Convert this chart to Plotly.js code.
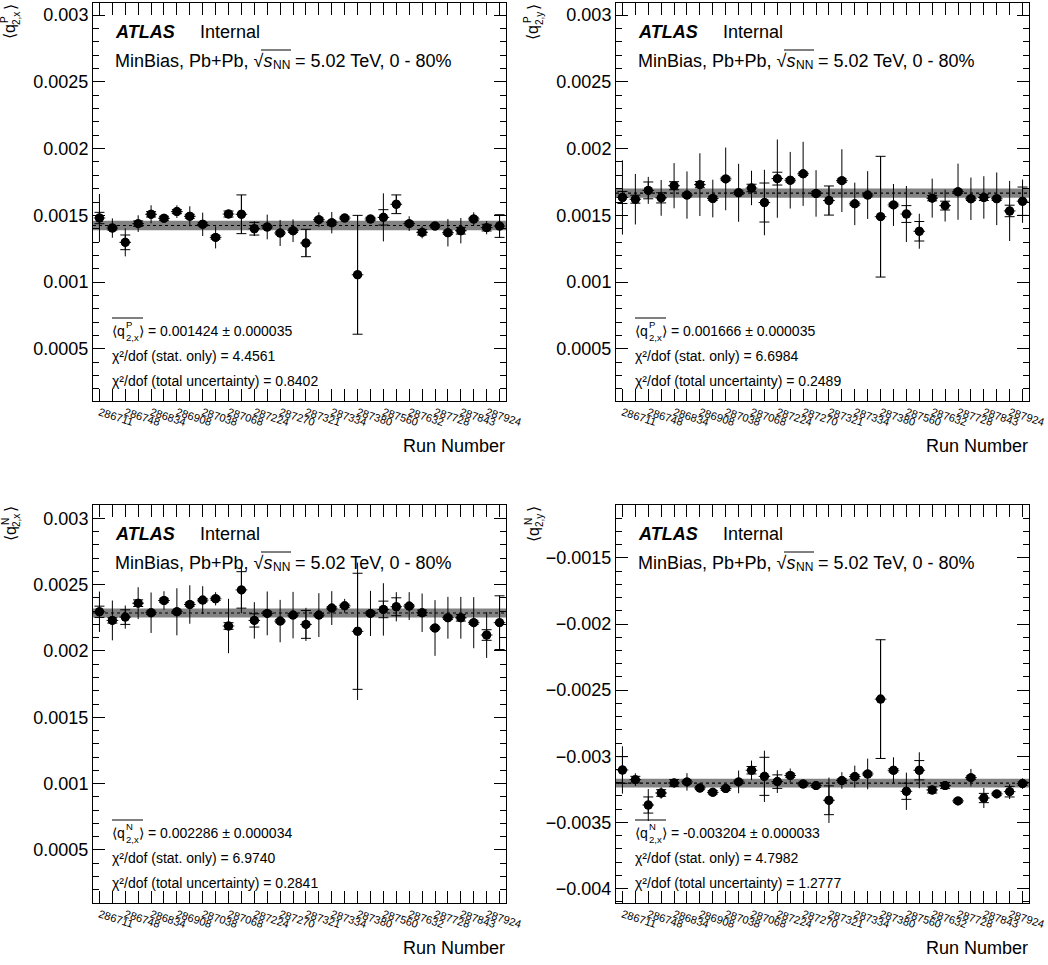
<!DOCTYPE html>
<html>
<head>
<meta charset="utf-8">
<script src="https://cdn.plot.ly/plotly-3.0.1.min.js"></script>
<style>html,body{margin:0;padding:0;background:#fff;}#chart{width:1048px;height:965px;}</style>
</head>
<body>
<div id="chart"></div>
<script>
// ---------------- data ----------------
const runLabels = ["286711","286748","286834","286908","287038","287068","287224","287270","287321","287334","287380","287560","287632","287728","287843","287924"];
const nBins = 32;

const qPx = [0.001480,0.001405,0.001298,0.001438,0.001508,0.001478,0.001528,0.001493,0.001433,0.001335,0.001510,0.001508,0.001400,0.001413,0.001368,0.001385,0.001293,0.001468,0.001445,0.001480,0.001055,0.001473,0.001485,0.001583,0.001438,0.001373,0.001420,0.001370,0.001385,0.001473,0.001408,0.001420];
const qPxErrLine = [0.000180,0.0000725,0.000105,0.0000625,0.0000675,0.000025,0.0000475,0.000075,0.0000875,0.0000825,0.000025,0.000145,0.000055,0.0000925,0.0000975,0.000085,0.0001025,0.000055,0.00008,0.000025,0.000445,0.00002,0.00018,0.00007,0.000055,0.000045,0.000025,0.0001025,0.000095,0.00005,0.00005,0.000085];
const qPxErrCap = [0.0000425,0.000015,0.000055,0.00002,0.00002,0.000015,0.000015,0.000015,0.0000125,0.0000125,0.0000225,0.000145,0.0000475,0.0000125,0.0000125,0.0000125,0.0001025,0.0000125,0.0000125,0.0000125,0.000445,0.0000125,0.0000575,0.00007,0.0000125,0.00002,0.0000125,0.0000125,0.000025,0.0000125,0.000025,0.000085];

const qPy = [0.001634,0.001621,0.001687,0.001631,0.001722,0.001652,0.001730,0.001626,0.001773,0.001669,0.001705,0.001596,0.001775,0.001763,0.001811,0.001664,0.001611,0.001760,0.001586,0.001652,0.001490,0.001578,0.001510,0.001381,0.001629,0.001573,0.001677,0.001624,0.001634,0.001624,0.001533,0.001606];
const qPyErrLine = [0.000278,0.000189,0.000101,0.000134,0.000169,0.000177,0.000235,0.000141,0.000235,0.000217,0.000129,0.000245,0.000293,0.000212,0.000240,0.000174,0.000109,0.000235,0.000159,0.000179,0.000452,0.000157,0.000210,0.000131,0.000146,0.000119,0.000210,0.000159,0.000159,0.000197,0.000225,0.000162];
const qPyErrCap = [0.000045,0.000030,0.000063,0.000038,0.000030,0.000013,0.000023,0.000013,0.000013,0.000013,0.000028,0.000146,0.000048,0.000013,0.000013,0.000013,0.000109,0.000013,0.000013,0.000013,0.000452,0.000013,0.000063,0.000073,0.000020,0.000033,0.000013,0.000013,0.000023,0.000013,0.000043,0.000106];

const qNx = [0.002295,0.002230,0.002255,0.002360,0.002288,0.002380,0.002295,0.002350,0.002383,0.002393,0.002188,0.002460,0.002230,0.002283,0.002225,0.002270,0.002200,0.002270,0.002323,0.002340,0.002148,0.002283,0.002313,0.002333,0.002338,0.002288,0.002173,0.002250,0.002250,0.002213,0.002120,0.002213];
const qNxErrLine = [0.0001525,0.00015,0.0000875,0.00012,0.0001525,0.00007,0.0001775,0.000145,0.000105,0.00005,0.000205,0.000175,0.0001375,0.000165,0.00016,0.000175,0.000125,0.000165,0.0001275,0.0000525,0.0005175,0.00017,0.0001975,0.00011,0.000105,0.000145,0.00021,0.0001575,0.0001575,0.0001925,0.0001725,0.0002025];
const qNxErrCap = [0.0000425,0.00002,0.000055,0.000025,0.0000125,0.0000125,0.0000125,0.0000125,0.0000125,0.0000125,0.000025,0.0001375,0.00005,0.0000125,0.0000125,0.0000125,0.000105,0.0000125,0.0000125,0.0000125,0.0004375,0.0000125,0.0000625,0.0000675,0.0000125,0.00002,0.0000125,0.0000125,0.000025,0.0000125,0.00004,0.0002025];

const qNy = [-0.003104,-0.003177,-0.003369,-0.003278,-0.003202,-0.003194,-0.003240,-0.003273,-0.003245,-0.003194,-0.003106,-0.003152,-0.003192,-0.003146,-0.003210,-0.003222,-0.003333,-0.003184,-0.003154,-0.003134,-0.002568,-0.003106,-0.003265,-0.003106,-0.003255,-0.003222,-0.003338,-0.003162,-0.003316,-0.003285,-0.003268,-0.003207];
const qNyErrLine = [0.000179,0.000048,0.000121,0.000043,0.000033,0.000066,0.000033,0.000020,0.000020,0.000086,0.000073,0.000194,0.000086,0.000053,0.000025,0.000020,0.000172,0.000063,0.000083,0.000116,0.000449,0.000098,0.000141,0.000136,0.000033,0.000033,0.000020,0.000066,0.000076,0.000025,0.000056,0.000040];
const qNyErrCap = [0.000101,0.000025,0.000061,0.000025,0.000025,0.000013,0.000013,0.000013,0.000013,0.000013,0.000028,0.000144,0.000051,0.000013,0.000013,0.000013,0.000109,0.000013,0.000013,0.000013,0.000449,0.000013,0.000061,0.000073,0.000023,0.000023,0.000013,0.000013,0.000035,0.000013,0.000040,0.000013];

const meanVals = [0.001424, 0.001666, 0.002286, -0.003204];
const meanErrs = [0.000035, 0.000035, 0.000034, 0.000033];
const meanLabels = ["0.001424 ± 0.000035","0.001666 ± 0.000035","0.002286 ± 0.000034","-0.003204 ± 0.000033"];
const chi2Stat = ["4.4561","6.6984","6.9740","4.7982"];
const chi2Total = ["0.8402","0.2489","0.2841","1.2777"];
const charges = ["P","P","N","N"];
const yComps = ["x","y","x","y"];

const yTickVals = [
  [0.0005,0.001,0.0015,0.002,0.0025,0.003],
  [0.0005,0.001,0.0015,0.002,0.0025,0.003],
  [0.0005,0.001,0.0015,0.002,0.0025,0.003],
  [-0.004,-0.0035,-0.003,-0.0025,-0.002,-0.0015]
];
const yTickText = [
  ["0.0005","0.001","0.0015","0.002","0.0025","0.003"],
  ["0.0005","0.001","0.0015","0.002","0.0025","0.003"],
  ["0.0005","0.001","0.0015","0.002","0.0025","0.003"],
  ["\u22120.004","\u22120.0035","\u22120.003","\u22120.0025","\u22120.002","\u22120.0015"]
];
const yRanges = [[0.00011,0.00309],[0.00011,0.00309],[0.0001,0.0031],[-0.00411,-0.0011]];

// ---------------- layout helpers ----------------
const W = 1048, H = 965;
const FONT = "Liberation Sans, Arial, Helvetica, sans-serif";
const panelBoxes = [
  {x0:93, y0:3}, {x0:616, y0:3}, {x0:93, y0:505}, {x0:616, y0:505}
];
const PW = 413, PH = 398;
const fx = p => p / W;
const fy = p => 1 - p / H;

const series = [
  {y:qPx, eLine:qPxErrLine, eCap:qPxErrCap},
  {y:qPy, eLine:qPyErrLine, eCap:qPyErrCap},
  {y:qNx, eLine:qNxErrLine, eCap:qNxErrCap},
  {y:qNy, eLine:qNyErrLine, eCap:qNyErrCap}
];

const xIdx = Array.from({length:nBins}, (_, i) => i);
const xLabelPos = runLabels.map((_, j) => 2 * j);
const xOddPos = xIdx.filter(i => i % 2 === 1);

const data = [];
const layout = {
  width: W, height: H,
  margin: {l:0, r:0, t:0, b:0},
  paper_bgcolor: "#ffffff", plot_bgcolor: "#ffffff",
  showlegend: false,
  font: {family: FONT, color: "#000", size: 17},
  annotations: [], shapes: []
};

series.forEach((s, k) => {
  const n = k + 1;
  const xa = n === 1 ? "x" : "x" + n;
  const ya = n === 1 ? "y" : "y" + n;
  const b = panelBoxes[k];

  data.push({
    type: "scatter", mode: "markers", x: xIdx, y: s.y, xaxis: xa, yaxis: ya,
    marker: {color: "#000", size: 9},
    error_y: {type: "data", array: s.eLine, visible: true, color: "#000", thickness: 1, width: 0},
    error_x: {type: "constant", value: 0.45, visible: true, color: "#000", thickness: 1, width: 0},
    hoverinfo: "skip"
  });
  data.push({
    type: "scatter", mode: "markers", x: xIdx, y: s.y, xaxis: xa, yaxis: ya,
    marker: {color: "#000", size: 9},
    error_y: {type: "data", array: s.eCap, visible: true, color: "#000", thickness: 1, width: 5},
    hoverinfo: "skip"
  });

  const xDom = [fx(b.x0), fx(b.x0 + PW)];
  const yDom = [fy(b.y0 + PH), fy(b.y0)];
  layout["xaxis" + (n === 1 ? "" : n)] = {
    domain: xDom, anchor: ya, range: [-0.5, nBins - 0.5],
    tickmode: "array", tickvals: xLabelPos, ticktext: runLabels,
    tickangle: 18, tickfont: {size: 11, family: FONT},
    ticks: "inside", ticklen: 12, tickcolor: "#000", tickwidth: 1,
    minor: {ticks: "inside", ticklen: 12, tickcolor: "#000", tickwidth: 1, tickmode: "array", tickvals: xOddPos, showgrid: false},
    showline: true, linecolor: "#000", linewidth: 1, mirror: "ticks",
    showgrid: false, zeroline: false, automargin: false, fixedrange: true
  };
  layout["yaxis" + (n === 1 ? "" : n)] = {
    domain: yDom, anchor: xa, range: yRanges[k],
    tickmode: "array", tickvals: yTickVals[k], ticktext: yTickText[k],
    tickfont: {size: 18, family: FONT},
    ticks: "inside", ticklen: 12, tickcolor: "#000", tickwidth: 1,
    minor: {ticks: "inside", ticklen: 6, tickcolor: "#000", tickwidth: 1, tickmode: "linear", tick0: 0, dtick: 0.0001, showgrid: false},
    showline: true, linecolor: "#000", linewidth: 1, mirror: "ticks",
    showgrid: false, zeroline: false, automargin: false, fixedrange: true
  };

  // mean band + dotted mean line
  layout.shapes.push({
    type: "rect", xref: xa + " domain", yref: ya, x0: 0, x1: 1,
    y0: meanVals[k] - meanErrs[k], y1: meanVals[k] + meanErrs[k],
    fillcolor: "#828282", line: {width: 0}, layer: "below"
  });
  layout.shapes.push({
    type: "line", xref: xa + " domain", yref: ya, x0: 0, x1: 1,
    y0: meanVals[k], y1: meanVals[k],
    line: {color: "#000", width: 1.2, dash: "dot"}, layer: "below"
  });

  const A = (px, py, text, opts) => Object.assign({
    xref: "paper", yref: "paper", x: fx(px), y: fy(py), text: text,
    showarrow: false, xanchor: "left", yanchor: "middle", borderpad: 0,
    font: {family: FONT, size: 18, color: "#000"}
  }, opts || {});
  const f = sz => ({family: FONT, size: sz, color: "#000"});

  layout.annotations.push(A(b.x0 + 21, b.y0 + 29, "<b><i>ATLAS</i></b>"));
  layout.annotations.push(A(b.x0 + 106, b.y0 + 29, "Internal"));
  // energy line split so that the subscript sits under the root sign
  layout.annotations.push(A(b.x0 + 21, b.y0 + 58, "MinBias, Pb+Pb, \u221A<i>s</i>"));
  layout.annotations.push(A(b.x0 + 179, b.y0 + 62, "NN", {font: f(12)}));
  layout.annotations.push(A(b.x0 + 201, b.y0 + 58, "= 5.02 TeV, 0 - 80%"));
  layout.shapes.push({type: "line", xref: "paper", yref: "paper",
    x0: fx(b.x0 + 168), x1: fx(b.x0 + 198), y0: fy(b.y0 + 47), y1: fy(b.y0 + 47),
    line: {color: "#000", width: 1}});

  // mean value with stacked super/subscript
  layout.annotations.push(A(b.x0 + 18, b.y0 + 328, "\u27E8q", {font: f(14)}));
  layout.annotations.push(A(b.x0 + 32, b.y0 + 321, charges[k], {font: f(9.5)}));
  layout.annotations.push(A(b.x0 + 32, b.y0 + 334, "2,x", {font: f(9.5)}));
  layout.annotations.push(A(b.x0 + 45, b.y0 + 328, "\u27E9 = " + meanLabels[k], {font: f(14)}));
  layout.shapes.push({type: "line", xref: "paper", yref: "paper",
    x0: fx(b.x0 + 19), x1: fx(b.x0 + 50), y0: fy(b.y0 + 315), y1: fy(b.y0 + 315),
    line: {color: "#000", width: 1}});
  layout.annotations.push(A(b.x0 + 18, b.y0 + 353, "\u03C7\u00B2/dof (stat. only) = " + chi2Stat[k], {font: f(14)}));
  layout.annotations.push(A(b.x0 + 18, b.y0 + 378, "\u03C7\u00B2/dof (total uncertainty) = " + chi2Total[k], {font: f(14)}));

  // axis titles
  layout.annotations.push(A(b.x0 + PW, b.y0 + 443, "Run Number", {xanchor: "right"}));
  layout.annotations.push(A(b.x0 - 83, b.y0 + 29, "\u27E8q", {xanchor: "center", textangle: -90, font: f(16)}));
  layout.annotations.push(A(b.x0 - 88, b.y0 + 17, charges[k], {xanchor: "center", textangle: -90, font: f(10)}));
  layout.annotations.push(A(b.x0 - 77, b.y0 + 16, "2," + yComps[k], {xanchor: "center", textangle: -90, font: f(10)}));
  layout.annotations.push(A(b.x0 - 83, b.y0 + 4, "\u27E9", {xanchor: "center", textangle: -90, font: f(16)}));
});

Plotly.newPlot("chart", data, layout, {staticPlot: true, displayModeBar: false});
</script>
</body>
</html>
